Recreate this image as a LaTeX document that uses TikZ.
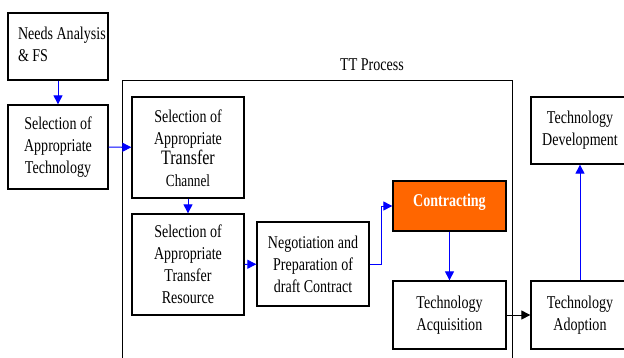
\documentclass[tikz,border=0pt]{standalone}
\usepackage{fontspec}
\newfontfamily\tnr[FakeStretch=0.78]{Liberation Serif}
\usetikzlibrary{arrows.meta}
\definecolor{orangefill}{RGB}{255,102,0}
\definecolor{arrowblue}{RGB}{0,0,255}
\tikzset{
  box/.style={draw=black, line width=1.3pt, inner sep=0pt, align=flush center,
    font=\tnr\fontsize{18}{22}\selectfont},
  bluearrow/.style={draw=arrowblue, line width=1pt, -{Triangle[length=9pt,width=9pt]}},
  blackarrow/.style={draw=black, line width=1pt, -{Triangle[length=9pt,width=9pt]}},
}
\begin{document}
\begin{tikzpicture}[x=1pt,y=-1pt]
\useasboundingbox (0,0) rectangle (624,357);
\clip (0,0) rectangle (624,357);
\fill[white] (0,0) rectangle (624,357);
% TT process frame
\draw[line width=0.9pt] (122,365) -- (122,80.5) -- (512,80.5) -- (512,365);
\node[font=\tnr\fontsize{18}{22}\selectfont] (ttlabel) at (372,65) {TT Process};
% boxes
\node[box, minimum width=100pt, minimum height=67pt, text width=80pt, align=flush left] (needs) at (58,46.5)
  {\raisebox{2pt}[\height][\depth]{\mbox{Needs Analysis}}\\\raisebox{2pt}[\height][\depth]{\& FS}};
\node[box, minimum width=100pt, minimum height=84pt] (seltech) at (58,147)
  {Selection of\\Appropriate\\Technology};
\node[box, minimum width=112pt, minimum height=101pt] (channel) at (188,147.5)
  {\raisebox{-2pt}[\height][\depth]{Selection of}\\\raisebox{-2pt}[\height][\depth]{Appropriate}\\{\fontsize{20.5}{22}\selectfont Transfer}\\{\fontsize{17}{22}\selectfont Channel}};
\node[box, minimum width=112pt, minimum height=101pt] (resource) at (188,264.5)
  {Selection of\\Appropriate\\Transfer\\Resource};
\node[box, minimum width=112pt, minimum height=84pt] (nego) at (313,264)
  {Negotiation and\\Preparation of\\draft Contract};
\node[box, fill=orangefill, text=white, font=\tnr\bfseries\fontsize{18}{22}\selectfont,
  minimum width=113pt, minimum height=50pt] (contract) at (449.5,206) {\raisebox{4pt}[\height][\depth]{Contracting}};
\node[box, minimum width=113pt, minimum height=68pt] (acq) at (449.5,315)
  {Technology\\Acquisition};
\node[box, minimum width=98pt, minimum height=68pt] (adopt) at (580,315)
  {Technology\\Adoption};
\node[box, minimum width=98pt, minimum height=67pt] (dev) at (580,130.5)
  {Technology\\Development};
% connectors
\draw[bluearrow] (needs) -- (seltech);
\draw[bluearrow] (seltech) -- (channel);
\draw[bluearrow] (channel) -- (resource);
\draw[bluearrow] (resource) -- (nego);
\draw[bluearrow] (nego.east) -- ++(12,0) |- (contract.west);
\draw[bluearrow] (contract) -- (acq);
\draw[blackarrow] (acq) -- (adopt);
\draw[bluearrow] (adopt) -- (dev);
\end{tikzpicture}
\end{document}
